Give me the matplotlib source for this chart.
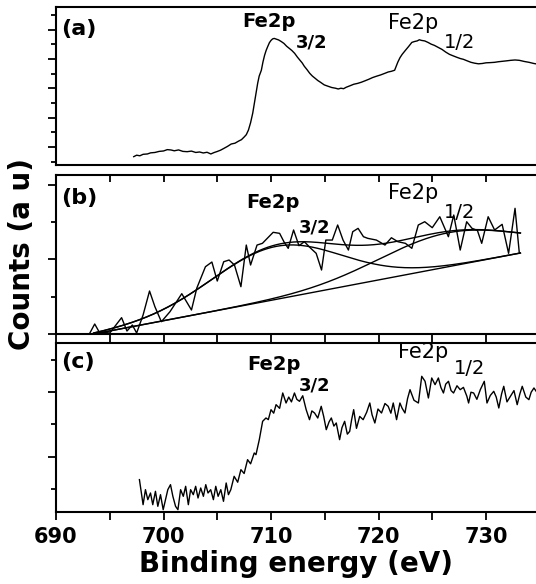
import numpy as np
import matplotlib
matplotlib.use("Agg")
import matplotlib.pyplot as plt
from matplotlib.ticker import MultipleLocator, FixedLocator

# (a) Fe2p spectrum
a_ev = [697.23, 697.5, 697.8, 698.1, 698.5, 698.8, 699.2, 699.6, 700.0, 700.35,
        700.7, 701.0, 701.4, 701.8, 702.2, 702.6, 703.0, 703.35, 703.7, 704.05,
        704.4, 704.7, 705.0, 705.3, 705.6, 705.95, 706.3, 706.65, 707.0, 707.25,
        707.5, 707.7, 707.9, 708.1, 708.3, 708.5, 708.76, 708.9, 709.1, 709.25,
        709.4, 709.55, 709.7, 709.85, 710.0, 710.15, 710.3, 710.5, 710.7, 710.95,
        711.2, 711.45, 711.7, 711.95, 712.2, 712.45, 712.7, 712.9, 713.1, 713.35,
        713.6, 713.85, 714.1, 714.35, 714.6, 714.95, 715.3, 715.65, 716.0, 716.25,
        716.5, 716.75, 717.0, 717.35, 717.7, 718.05, 718.4, 718.75, 719.1, 719.45,
        719.8, 720.2, 720.6, 720.9, 721.2, 721.5, 721.8, 722.0, 722.2, 722.5,
        722.8, 723.1, 723.35, 723.6, 723.8, 724.0, 724.3, 724.6, 724.9, 725.2,
        725.55, 725.9, 726.25, 726.6, 726.95, 727.3, 727.6, 727.9, 728.25, 728.6,
        728.95, 729.3, 729.65, 730.0, 730.4, 730.8, 731.15, 731.5, 731.9, 732.3,
        732.7, 733.1, 733.55, 734.0, 734.45, 734.9]
a_counts = [-330, -280, -300, -250, -238, -200, -187, -150, -136, -90,
            -102, -130, -100, -150, -160, -140, -187, -170, -204, -180,
            -238, -190, -153, -110, -51, 20, 102, 130, 204, 250,
            340, 420, 578, 830, 1156, 1600, 2176, 2420, 2618, 2900,
            3128, 3300, 3434, 3560, 3638, 3690, 3706, 3680, 3655, 3600,
            3536, 3440, 3366, 3290, 3196, 3070, 2958, 2870, 2754, 2640,
            2516, 2420, 2346, 2270, 2210, 2120, 2074, 2030, 2006, 1980,
            2006, 1990, 2040, 2090, 2142, 2170, 2210, 2260, 2312, 2370,
            2414, 2460, 2516, 2560, 2584, 2620, 2900, 3050, 3162, 3298,
            3430, 3570, 3600, 3621, 3660, 3638, 3620, 3570, 3510, 3468,
            3400, 3332, 3240, 3162, 3110, 3060, 3020, 2992, 2940, 2890,
            2860, 2839, 2850, 2873, 2880, 2890, 2910, 2924, 2940, 2958,
            2970, 2958, 2920, 2890, 2850, 2822]

# (b) raw spectrum
b_ev = [693.1, 693.6, 694.0, 695.0, 696.1, 696.6, 697.1, 697.5, 698.1, 698.7,
        699.2, 699.8, 700.6, 701.7, 702.6, 703.1, 703.9, 704.5, 705.0, 705.6,
        706.1, 706.6, 707.2, 707.7, 708.1, 708.7, 709.2, 710.2, 710.8, 711.2,
        711.6, 712.1, 712.6, 713.1, 713.7, 714.2, 714.7, 715.1, 715.7, 716.2,
        716.7, 717.2, 717.6, 718.1, 718.6, 719.0, 719.8, 720.6, 721.2, 721.8,
        722.5, 723.1, 723.7, 724.3, 725.0, 725.7, 726.5, 727.0, 727.6, 728.2,
        728.7, 729.2, 729.6, 730.2, 730.8, 731.5, 732.1, 732.7, 733.1]
b_counts = [0, 134, 31, 13, 219, 40, 121, 13, 255, 577,
            366, 165, 299, 541, 322, 617, 903, 966, 711, 970,
            993, 926, 635, 1194, 926, 1194, 1217, 1365, 1351, 1239,
            1150, 1396, 1185, 1239, 1150, 1083, 859, 1261, 1261, 1463,
            1261, 1127, 1373, 1418, 1306, 1284, 1261, 1194, 1292, 1239,
            1217, 1150, 1463, 1507, 1427, 1574, 1306, 1597, 1127, 1507,
            1418, 1390, 1217, 1574, 1396, 1472, 1083, 1687, 1083]

# (b) fit: linear background + two gaussian components
bg_ev = [693.5, 733.2]
bg_counts = [0, 1087]
peak_center = [710.5, 726.5]
peak_height = [711, 456]
peak_sigma = [6.0, 6.5]

# (c) Fe2p spectrum
c_ev = [697.76, 698.10, 698.32, 698.54, 698.79, 699.00, 699.25, 699.47, 699.72, 699.97,
        700.19, 700.40, 700.65, 700.87, 701.12, 701.34, 701.59, 701.84, 702.06, 702.31,
        702.52, 702.77, 702.99, 703.21, 703.46, 703.71, 703.93, 704.14, 704.39, 704.64,
        704.86, 705.08, 705.33, 705.58, 705.83, 706.04, 706.26, 706.57, 706.90, 707.20,
        707.50, 707.82, 708.10, 708.44, 708.60, 708.91, 709.22, 709.53, 709.75, 710.00,
        710.25, 710.47, 710.80, 711.09, 711.40, 711.65, 711.90, 712.18, 712.40, 712.65,
        712.95, 713.27, 713.58, 713.80, 714.05, 714.35, 714.67, 714.90, 715.14, 715.40,
        715.61, 715.85, 716.07, 716.38, 716.60, 716.85, 717.10, 717.32, 717.50, 717.69,
        717.95, 718.25, 718.57, 718.90, 719.19, 719.40, 719.66, 719.95, 720.28, 720.60,
        720.90, 721.15, 721.37, 721.68, 721.99, 722.20, 722.46, 722.70, 722.93, 723.30,
        723.71, 724.02, 724.33, 724.64, 724.95, 725.26, 725.57, 725.80, 726.04, 726.25,
        726.51, 726.75, 726.98, 727.30, 727.60, 727.90, 728.22, 728.38, 728.60, 728.85,
        729.15, 729.47, 729.84, 730.09, 730.40, 730.72, 730.95, 731.19, 731.45, 731.65,
        731.95, 732.27, 732.60, 732.90, 733.15, 733.37, 733.70, 733.99, 734.20, 734.46,
        734.77]
c_counts = [290, -486, -21, -331, -124, -486, -72, -537, -176, -641,
            -331, -21, 134, -227, -537, -641, -21, -227, 83, -486,
            -21, -176, 83, -279, 31, -227, 134, -124, -21, -331,
            83, -227, -21, -382, 186, -176, -21, 393, 210, 599,
            480, 909, 780, 1116, 1064, 1529, 2098, 2201, 2150, 2459,
            2350, 2614, 2500, 2976, 2666, 2850, 2700, 2976, 2780, 2718,
            2890, 2459, 2149, 2420, 2356, 2200, 2563, 2250, 1839, 2080,
            2201, 1950, 2046, 1529, 1900, 2098, 1700, 1787, 2150, 2459,
            1880, 2250, 2149, 2380, 2666, 2300, 2046, 2480, 2356, 2650,
            2563, 2350, 2666, 2149, 2666, 2500, 2356, 2800, 3079, 2750,
            2666, 3493, 3338, 2821, 3441, 3234, 3441, 3150, 2976, 3250,
            3338, 3050, 2976, 3200, 3079, 3150, 2873, 2666, 3000, 2976,
            2780, 3079, 3338, 2666, 2900, 3028, 2850, 2511, 2950, 3183,
            2700, 2873, 3050, 2614, 2950, 3183, 2850, 2769, 3000, 3131,
            2976]

x_major = [690, 700, 710, 720, 730]

fig = plt.figure(figsize=(5.36, 5.84), dpi=100)
left = 0.1045
width = 1.0 - left
ax_a = fig.add_axes([left, 0.7175, width, 0.2705])
ax_b = fig.add_axes([left, 0.4281, width, 0.2722])
ax_c = fig.add_axes([left, 0.1233, width, 0.2894])

for ax in (ax_a, ax_b, ax_c):
    ax.set_xlim(690, 734.65)
    ax.xaxis.set_major_locator(FixedLocator(x_major))
    ax.xaxis.set_minor_locator(MultipleLocator(5))
    for s in ax.spines.values():
        s.set_linewidth(1.5)
    ax.spines["right"].set_visible(False)
    ax.tick_params(axis="y", which="both", direction="out", left=True, right=False,
                   labelleft=False, width=1.3)
    ax.tick_params(axis="y", which="major", length=6)
    ax.tick_params(axis="y", which="minor", length=3.5)

# panel (a)
ax_a.plot(a_ev, a_counts, color="black", lw=1.0)
ax_a.set_ylim(-614, 4778)
ax_a.yaxis.set_major_locator(MultipleLocator(1000))
ax_a.yaxis.set_minor_locator(MultipleLocator(500))
ax_a.tick_params(axis="x", which="both", bottom=False, top=False, labelbottom=False)

# panel (b)
fit_x = np.linspace(bg_ev[0], bg_ev[1], 300)
bg = np.interp(fit_x, bg_ev, bg_counts)
g1 = peak_height[0] * np.exp(-(fit_x - peak_center[0]) ** 2 / (2 * peak_sigma[0] ** 2))
g2 = peak_height[1] * np.exp(-(fit_x - peak_center[1]) ** 2 / (2 * peak_sigma[1] ** 2))
ax_b.plot(b_ev, b_counts, color="black", lw=1.0)
ax_b.plot(fit_x, bg, color="black", lw=1.0)
ax_b.plot(fit_x, bg + g1, color="black", lw=1.0)
ax_b.plot(fit_x, bg + g2, color="black", lw=1.0)
ax_b.plot(fit_x, bg + g1 + g2, color="black", lw=1.0)
ax_b.set_ylim(0, 2134)
ax_b.yaxis.set_major_locator(MultipleLocator(1000))
ax_b.yaxis.set_minor_locator(MultipleLocator(500))
ax_b.tick_params(axis="x", which="both", bottom=False, top=True, direction="in",
                 length=5, width=1.3, labelbottom=False)

# panel (c)
ax_c.plot(c_ev, c_counts, color="black", lw=1.0)
ax_c.set_ylim(-713, 4526)
ax_c.yaxis.set_major_locator(FixedLocator([1000, 3000]))
ax_c.yaxis.set_minor_locator(FixedLocator([0, 2000, 4000]))
ax_c.tick_params(axis="x", which="both", bottom=True, top=True, direction="out",
                 length=6, width=1.3, labelsize=15, pad=5)
for lab in ax_c.get_xticklabels():
    lab.set_fontweight("bold")
ax_c.set_xlabel("Binding energy (eV)", fontsize=20, fontweight="bold", labelpad=2)

fig.text(0.041, 0.565, "Counts (a u)", rotation=90, fontsize=20, fontweight="bold",
         ha="center", va="center")

# panel letters
for ax, letter, y in ((ax_a, "(a)", 0.862), (ax_b, "(b)", 0.855), (ax_c, "(c)", 0.888)):
    ax.text(0.011, y, letter, transform=ax.transAxes, fontsize=16, fontweight="bold",
            ha="left", va="center")

# peak labels
bold_kw = dict(fontsize=14, fontweight="bold", ha="left", va="center")
norm_kw = dict(fontsize=15, ha="left", va="center")
ax_a.text(707.3, 4267, "Fe2p", **bold_kw)
ax_a.text(712.3, 3570, "3/2", fontsize=13, fontweight="bold", ha="left", va="center")
ax_a.text(720.9, 4233, "Fe2p", **norm_kw)
ax_a.text(726.05, 3553, "1/2", fontsize=14, ha="left", va="center")

ax_b.text(707.66, 1765, "Fe2p", **bold_kw)
ax_b.text(712.6, 1429, "3/2", fontsize=13, fontweight="bold", ha="left", va="center")
ax_b.text(720.9, 1899, "Fe2p", **norm_kw)
ax_b.text(726.05, 1631, "1/2", fontsize=14, ha="left", va="center")

ax_c.text(707.76, 3860, "Fe2p", **bold_kw)
ax_c.text(712.6, 3209, "3/2", fontsize=13, fontweight="bold", ha="left", va="center")
ax_c.text(721.84, 4247, "Fe2p", **norm_kw)
ax_c.text(726.98, 3736, "1/2", fontsize=14, ha="left", va="center")

fig.savefig("out.png", dpi=100)
